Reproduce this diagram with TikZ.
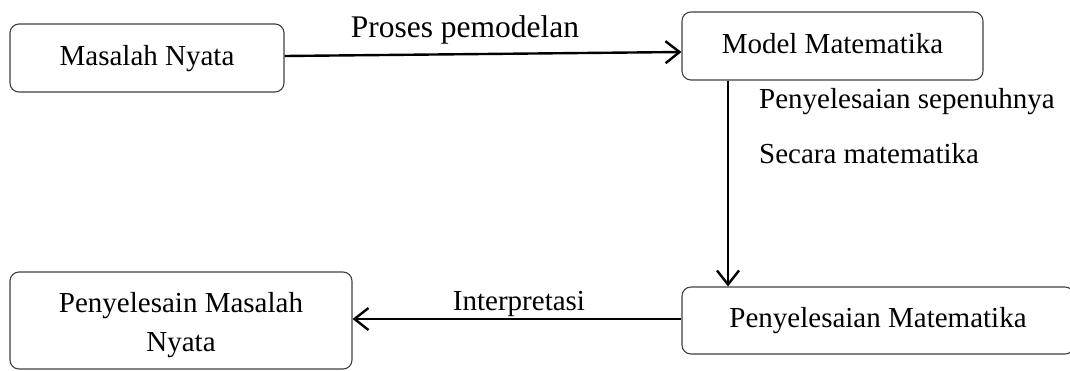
\documentclass[tikz,border=0pt]{standalone}
\usepackage{fontspec}
\setmainfont{Liberation Serif}
\usetikzlibrary{arrows.meta,calc}
\begin{document}
\begin{tikzpicture}[x=1pt,y=-1pt,
  box/.style={draw=black!75,line width=1.1pt,rounded corners=9pt,inner sep=0pt,align=center,font=\fontsize{29}{39}\selectfont},
  onel/.style={text height=20pt,text depth=6pt},
  lbl/.style={font=\fontsize{29}{39}\selectfont,inner sep=0pt},
  arr/.style={line width=2.4pt,-{Straight Barb[length=14pt,width=22pt,line width=2.4pt]}}]
\useasboundingbox (0,0) rectangle (1070,370);
\clip (0,0) rectangle (1070,370);
\node[box,onel,minimum width=274pt,minimum height=68pt] (b1) at (147,58) {Masalah Nyata};
\node[box,onel,minimum width=301pt,minimum height=68pt] (b2) at (832.5,46) {Model Matematika};
\node[box,minimum width=342pt,minimum height=97pt] (b3) at (181,320.5) {\rule{0pt}{30pt}Penyelesain Masalah\\Nyata};
\node[box,onel,minimum width=392pt,minimum height=67pt] (b4) at (878,320.5) {Penyelesaian Matematika};
\coordinate (vx) at (728,0);
\draw[arr] ([yshift=2pt]b1.east) -- ([yshift=-6pt]b2.west);
\node[lbl,font=\fontsize{31.5}{38}\selectfont,anchor=base] (l1) at (465,37) {Proses pemodelan};
\draw[arr] (vx |- b2.south) -- (vx |- b4.north);
\node[lbl,anchor=base west] (l2) at (759,108) {Penyelesaian sepenuhnya};
\node[lbl,anchor=base west] (l3) at (759,163) {Secara matematika};
\draw[arr] ([yshift=1.5pt]b4.west) -- ([yshift=1.5pt]b4.west -| b3.east);
\node[lbl,anchor=base] (l4) at (519,310) {Interpretasi};
\end{tikzpicture}
\end{document}
